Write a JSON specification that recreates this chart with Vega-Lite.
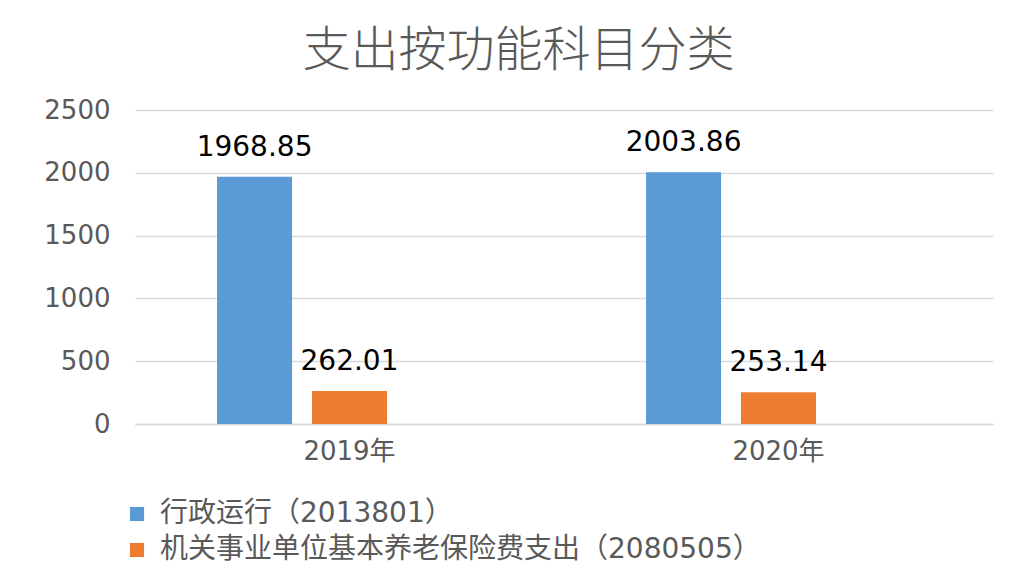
{
  "$schema": "https://vega.github.io/schema/vega-lite/v6.json",
  "autosize": {"type": "none"},
  "width": 858,
  "height": 314,
  "padding": {"left": 135, "top": 110, "right": 34, "bottom": 160},
  "background": "white",
  "config": {"view": {"stroke": null}},
  "title": {
    "text": "支出按功能科目分类",
    "font": "Noto Sans CJK SC",
    "fontSize": 48,
    "fontWeight": 300,
    "color": "#595959",
    "anchor": "middle",
    "frame": "bounds",
    "offset": 21
  },
  "data": {
    "values": [
      {"year": "2019年", "series": "行政运行（2013801）", "value": 1968.85},
      {"year": "2019年", "series": "机关事业单位基本养老保险费支出（2080505）", "value": 262.01},
      {"year": "2020年", "series": "行政运行（2013801）", "value": 2003.86},
      {"year": "2020年", "series": "机关事业单位基本养老保险费支出（2080505）", "value": 253.14}
    ]
  },
  "encoding": {
    "x": {
      "field": "year", "type": "nominal",
      "scale": {"paddingInner": 0.336, "paddingOuter": 0.168},
      "axis": {
        "title": null, "labelAngle": 0, "ticks": false,
        "labelFont": "DejaVu Sans, Noto Sans CJK SC", "labelFontSize": 26,
        "labelColor": "#595959", "labelPadding": 14,
        "domainColor": "#d9d9d9", "domainWidth": 1.5
      }
    },
    "xOffset": {
      "field": "series", "type": "nominal",
      "scale": {
        "domain": ["行政运行（2013801）", "机关事业单位基本养老保险费支出（2080505）", "_"],
        "paddingInner": 0.21, "paddingOuter": 0.105
      }
    },
    "y": {
      "field": "value", "type": "quantitative",
      "scale": {"domain": [0, 2500]},
      "axis": {
        "title": null, "values": [0, 500, 1000, 1500, 2000, 2500], "format": "d",
        "ticks": false, "domain": false,
        "labelFont": "DejaVu Sans", "labelFontSize": 26, "labelColor": "#595959",
        "labelPadding": 25,
        "gridColor": "#d9d9d9", "gridWidth": 1.5
      }
    }
  },
  "layer": [
    {
      "mark": {"type": "bar"},
      "encoding": {
        "color": {
          "field": "series", "type": "nominal",
          "scale": {
            "domain": ["行政运行（2013801）", "机关事业单位基本养老保险费支出（2080505）"],
            "range": ["#5b9bd5", "#ed7d31"]
          },
          "legend": {
            "title": null,
            "orient": "none",
            "legendX": -12,
            "legendY": 390,
            "direction": "vertical",
            "symbolType": "square",
            "symbolSize": 200,
            "symbolStrokeWidth": 0,
            "labelFont": "DejaVu Sans, Noto Sans CJK SC",
            "labelFontSize": 28,
            "labelColor": "#595959",
            "labelOffset": 9,
            "labelLimit": 1000,
            "rowPadding": 8
          }
        }
      }
    },
    {
      "mark": {
        "type": "text", "baseline": "bottom", "dy": -15,
        "font": "DejaVu Sans", "fontSize": 28, "color": "#000000"
      },
      "encoding": {
        "text": {"field": "value", "type": "quantitative", "format": ".2f"}
      }
    }
  ]
}
